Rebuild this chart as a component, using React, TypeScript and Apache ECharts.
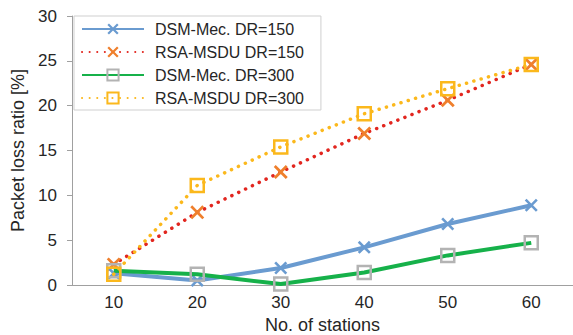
import React, { useEffect, useRef } from "react";
import * as echarts from "echarts";

const stations = ["10", "20", "30", "40", "50", "60"];
const dsmDr150 = [1.3, 0.5, 1.9, 4.2, 6.8, 8.9];
const rsaDr150 = [2.3, 8.1, 12.6, 16.9, 20.6, 24.6];
const dsmDr300 = [1.6, 1.2, 0.1, 1.4, 3.3, 4.7];
const rsaDr300 = [1.2, 11.1, 15.4, 19.1, 21.9, 24.6];
const seriesNames = ["DSM-Mec. DR=150", "RSA-MSDU DR=150", "DSM-Mec. DR=300", "RSA-MSDU DR=300"];

const CROSS =
  "path://M0,1.4L1.4,0L5,3.6L8.6,0L10,1.4L6.4,5L10,8.6L8.6,10L5,6.4L1.4,10L0,8.6L3.6,5Z";
const FONT = "'Liberation Sans', Arial, Helvetica, sans-serif";
const TXT = "#262626";

export default function App() {
  const ref = useRef<HTMLDivElement>(null);
  useEffect(() => {
    const chart = echarts.init(ref.current!, null, { renderer: "svg" });
    const dots = { type: [0.1, 7.5], cap: "round" as const, width: 3.5 };
    chart.setOption({
      animation: false,
      textStyle: { fontFamily: FONT },
      grid: { left: 72, right: 0, top: 16, bottom: 50, containLabel: false, outerBoundsMode: "none" },
      legend: {
        orient: "vertical",
        left: 74,
        top: 16,
        data: seriesNames,
        itemWidth: 62,
        itemHeight: 14,
        itemGap: 7,
        padding: [5, 17, 4, 7],
        borderColor: "#cfcfcf",
        borderWidth: 1,
        backgroundColor: "#ffffff",
        textStyle: { fontSize: 16, lineHeight: 16, color: TXT, fontFamily: FONT, padding: [0, 0, 0, 6] },
      },
      xAxis: {
        type: "category",
        data: stations,
        boundaryGap: true,
        name: "No. of stations",
        nameLocation: "middle",
        nameGap: 29,
        nameTextStyle: { fontSize: 18, color: TXT, fontFamily: FONT },
        axisLine: { lineStyle: { color: "#a0a0a0", width: 1 } },
        axisTick: { alignWithLabel: true, inside: true, length: 5, lineStyle: { color: "#a0a0a0" } },
        axisLabel: { fontSize: 17, color: TXT, margin: 9, fontFamily: FONT },
        splitLine: { show: false },
      },
      yAxis: {
        type: "value",
        min: 0,
        max: 30,
        interval: 5,
        name: "Packet loss ratio [%]",
        nameLocation: "middle",
        nameGap: 44,
        nameTextStyle: { fontSize: 18, color: TXT, fontFamily: FONT },
        axisLine: { show: true, lineStyle: { color: "#a0a0a0", width: 1 } },
        axisTick: { show: true, inside: false, length: 5, lineStyle: { color: "#a0a0a0" } },
        axisLabel: { fontSize: 17, color: TXT, margin: 15, fontFamily: FONT },
        splitLine: { show: false },
      },
      series: [
        {
          name: seriesNames[0],
          type: "line",
          data: dsmDr150,
          symbol: CROSS,
          symbolSize: 13,
          lineStyle: { color: "#6a9bd0", width: 4 },
          itemStyle: { color: "#6a9bd0" },
          z: 3,
        },
        {
          name: seriesNames[1],
          type: "line",
          data: rsaDr150,
          symbol: CROSS,
          symbolSize: 14,
          lineStyle: { color: "#e2261f", ...dots },
          itemStyle: { color: "#ef7f2c" },
          z: 2,
        },
        {
          name: seriesNames[2],
          type: "line",
          data: dsmDr300,
          symbol: "rect",
          symbolSize: 13,
          lineStyle: { color: "#16b14a", width: 4 },
          itemStyle: { color: "rgba(255,255,255,0)", borderColor: "#b3b3b3", borderWidth: 2.5 },
          z: 4,
        },
        {
          name: seriesNames[3],
          type: "line",
          data: rsaDr300,
          symbol: "rect",
          symbolSize: 13,
          lineStyle: { color: "#fbb81c", ...dots },
          itemStyle: { color: "rgba(255,255,255,0)", borderColor: "#fbb81c", borderWidth: 2.5 },
          z: 5,
        },
      ],
    });
    return () => chart.dispose();
  }, []);
  return (
    <div
      ref={ref}
      style={{ position: "absolute", left: 0, top: 0, width: 573, height: 335, background: "#fff" }}
    />
  );
}
